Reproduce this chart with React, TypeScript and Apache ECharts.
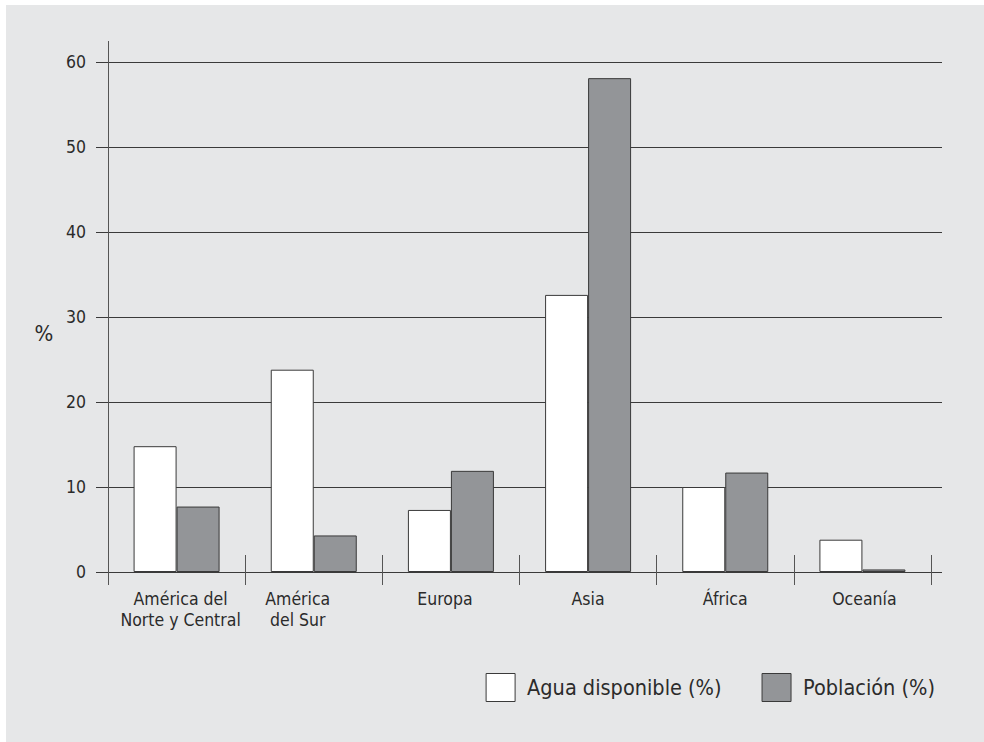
import React, { useEffect, useRef } from "react";
import * as echarts from "echarts";

// ---- data ----
const categories = [
  "América del\nNorte y Central",
  "América\ndel Sur",
  "Europa",
  "Asia",
  "África",
  "Oceanía",
];
const aguaDisponible = [14.8, 23.8, 7.3, 32.6, 10.0, 3.8];
const poblacion = [7.7, 4.3, 11.9, 58.1, 11.7, 0.3];
const seriesNames = ["Agua disponible (%)", "Población (%)"];
const yMin = 0;
const yMax = 60;
const yInterval = 10;
const yAxisName = "%";

// ---- styling / layout ----
const FONT = '"DejaVu Sans Condensed", "Liberation Sans Narrow", "Arial Narrow", sans-serif';
const W = 978;
const H = 737;
const L = 102;
const T = 57;
const BOTTOM = 170;
const TEXT = "#2b2b2b";
const LINE = "#3a3a3a";
const labelPad: number[][] = [
  [0, 0, 0, 8],
  [0, 32, 0, 0],
  [0, 12, 0, 0],
  [0, 0, 0, 0],
  [0, 0, 0, 0],
  [0, 0, 0, 4],
];

export default function App() {
  const ref = useRef<HTMLDivElement>(null);

  useEffect(() => {
    if (!ref.current) return;
    const chart = echarts.init(ref.current, undefined, { renderer: "svg" });
    const categoryData = categories.map((c, i) => ({
      value: c,
      textStyle: { padding: labelPad[i] },
    }));
    const option: any = {
      animation: false,
      backgroundColor: "#e6e7e8",
      textStyle: { fontFamily: FONT },
      grid: [
        { left: L, top: T, right: 42, bottom: BOTTOM },
        { left: L, top: T, right: 53, bottom: BOTTOM },
        { left: L, top: T, right: 53, bottom: BOTTOM },
      ],
      xAxis: [
        { gridIndex: 0, type: "value", min: 0, max: 1, show: false },
        {
          gridIndex: 1,
          type: "category",
          data: categoryData,
          boundaryGap: true,
          axisLine: { show: false },
          axisTick: { show: true, inside: true, length: 17, lineStyle: { color: "#555" } },
          axisLabel: {
            interval: 0,
            margin: 16,
            fontSize: 17.5,
            lineHeight: 21,
            color: TEXT,
            fontFamily: FONT,
          },
        },
        {
          gridIndex: 2,
          type: "category",
          data: categories,
          boundaryGap: true,
          axisLine: { show: false },
          axisTick: { show: true, inside: false, length: 13, lineStyle: { color: "#555" } },
          axisLabel: { show: false },
        },
      ],
      yAxis: [
        {
          gridIndex: 0,
          type: "value",
          min: yMin,
          max: yMax,
          interval: yInterval,
          axisLine: { show: false },
          axisTick: { show: true, length: 12, lineStyle: { color: LINE } },
          splitLine: { show: true, lineStyle: { color: LINE, width: 1 } },
          axisLabel: { margin: 22, fontSize: 17.5, color: TEXT, fontFamily: FONT },
        },
        { gridIndex: 1, type: "value", min: yMin, max: yMax, interval: yInterval, show: false },
        { gridIndex: 2, type: "value", min: yMin, max: yMax, interval: yInterval, show: false },
      ],
      legend: {
        right: 49,
        top: 668,
        padding: 0,
        itemWidth: 29,
        itemHeight: 28,
        itemGap: 40,
        icon: "rect",
        itemStyle: { borderColor: LINE, borderWidth: 1 },
        textStyle: { fontSize: 21.5, color: TEXT, fontFamily: FONT, padding: [0, 0, 0, 7] },
        data: seriesNames,
      },
      graphic: [
        {
          type: "line",
          shape: { x1: L + 0.5, y1: 36, x2: L + 0.5, y2: 580 },
          style: { stroke: "#555", lineWidth: 1 },
          z: 10,
        },
        {
          type: "text",
          x: 38,
          y: 328,
          style: {
            text: yAxisName,
            fontSize: 22,
            fontFamily: FONT,
            fill: TEXT,
            align: "center",
            verticalAlign: "middle",
          },
        },
      ],
      series: [
        {
          name: seriesNames[0],
          type: "bar",
          xAxisIndex: 1,
          yAxisIndex: 1,
          data: aguaDisponible,
          barWidth: 43,
          barGap: "0%",
          itemStyle: { color: "#ffffff", borderColor: LINE, borderWidth: 1 },
        },
        {
          name: seriesNames[1],
          type: "bar",
          xAxisIndex: 1,
          yAxisIndex: 1,
          data: poblacion,
          barWidth: 43,
          barGap: "0%",
          itemStyle: { color: "#939598", borderColor: LINE, borderWidth: 1 },
        },
      ],
    };
    chart.setOption(option);
    return () => chart.dispose();
  }, []);

  return (
    <div
      ref={ref}
      style={{ position: "fixed", left: 6, top: 5, width: W, height: H }}
    />
  );
}
